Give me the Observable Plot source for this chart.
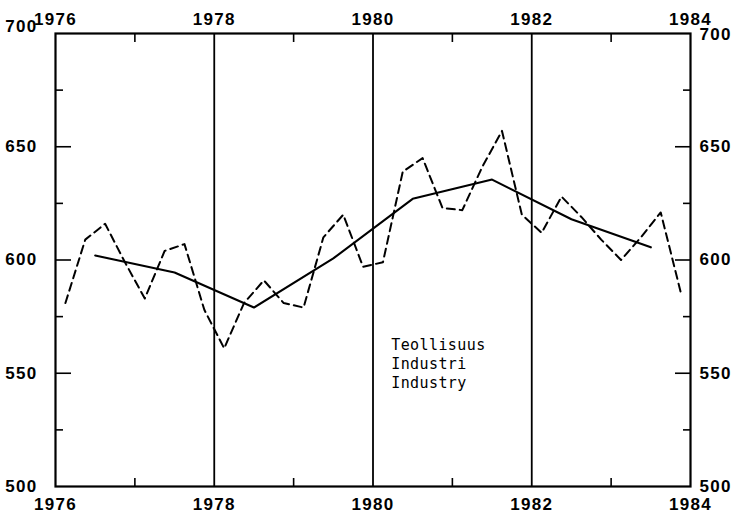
<!DOCTYPE html>
<html><head><meta charset="utf-8">
<script src="https://cdn.jsdelivr.net/npm/d3@7"></script>
<script src="https://cdn.jsdelivr.net/npm/@observablehq/plot@0.6"></script>
<style>
body{margin:0;background:#fff}
#chart svg text{letter-spacing:1.3px}
#chart svg g[aria-label="text"] text{letter-spacing:0.4px}
</style>
</head><body><div id="chart"></div>
<script>
// Quarterly series (dashed), time = mid-quarter
const quarterTimes = [
  1976.125, 1976.375, 1976.625, 1976.875,
  1977.125, 1977.375, 1977.625, 1977.875,
  1978.125, 1978.375, 1978.625, 1978.875,
  1979.125, 1979.375, 1979.625, 1979.875,
  1980.125, 1980.375, 1980.625, 1980.875,
  1981.125, 1981.375, 1981.625, 1981.875,
  1982.125, 1982.375, 1982.625, 1982.875,
  1983.125, 1983.375, 1983.625, 1983.875
];
const quarterValues = [
  581, 609, 616, 599,
  583, 604, 607, 578,
  561, 581, 591, 581,
  579, 610, 620, 597,
  599, 639, 645, 623,
  622, 641, 657, 620,
  612, 628, 619, 609,
  600, 610, 621, 586
];
// Annual series (solid), time = mid-year
const yearTimes = [1976.5, 1977.5, 1978.5, 1979.5, 1980.5, 1981.5, 1982.5, 1983.5];
const yearValues = [602, 594.5, 579, 600.7, 627, 635.5, 618, 605.6];

const xLabelTicks = [1976, 1978, 1980, 1982, 1984];
const xMinorTicks = [1977, 1979, 1981, 1983];
const dividerYears = [1978, 1980, 1982];
const yLabelTicks = [500, 550, 600, 650];
const yTopTick = [700];
const yMajorTicks = [550, 600, 650];
const yMinorTicks = [525, 575, 625, 675];
const labelLines = ["Teollisuus", "Industri", "Industry"];
const labelPos = {x: 1980.23, y: 554.5};

const quarterly = quarterTimes.map((t, i) => ({t, v: quarterValues[i]}));
const annual = yearTimes.map((t, i) => ({t, v: yearValues[i]}));
const annotation = [{x: labelPos.x, y: labelPos.y, text: labelLines.join("\n")}];

const fmt = d => String(d);
const lab = {fontSize: 17, fontWeight: "bold", fontFamily: "Liberation Sans"};

const chart = Plot.plot({
  width: 733,
  height: 514,
  marginLeft: 55,
  marginRight: 43,
  marginTop: 33,
  marginBottom: 28,
  style: {fontFamily: "Liberation Sans", fontSize: "17px", background: "#fff", color: "#000", overflow: "visible"},
  x: {domain: [1976, 1984]},
  y: {domain: [500, 700]},
  marks: [
    Plot.ruleX(dividerYears, {stroke: "#000", strokeWidth: 1.8}),
    // x labels
    Plot.axisX({anchor: "bottom", ticks: xLabelTicks, tickSize: 0, tickPadding: 11, tickFormat: fmt, label: null, ...lab}),
    Plot.axisX({anchor: "top", ticks: xLabelTicks, tickSize: 0, tickPadding: 9, tickFormat: fmt, label: null, ...lab}),
    // x inward minor ticks
    Plot.axisX({anchor: "bottom", ticks: xMinorTicks, tickSize: -8, tickFormat: () => "", label: null, strokeWidth: 1.6}),
    Plot.axisX({anchor: "top", ticks: xMinorTicks, tickSize: -8, tickFormat: () => "", label: null, strokeWidth: 1.6}),
    // y labels
    Plot.axisY({anchor: "left", ticks: yLabelTicks, tickSize: 0, tickPadding: 18, tickFormat: fmt, label: null, ...lab}),
    Plot.axisY({anchor: "left", ticks: yTopTick, tickSize: 0, tickPadding: 18, tickFormat: fmt, label: null, dy: -7, ...lab}),
    Plot.axisY({anchor: "right", ticks: yLabelTicks, tickSize: 0, tickPadding: 9, tickFormat: fmt, label: null, ...lab}),
    Plot.axisY({anchor: "right", ticks: yTopTick, tickSize: 0, tickPadding: 9, tickFormat: fmt, label: null, dy: 1.5, ...lab}),
    // y inward ticks
    Plot.axisY({anchor: "left", ticks: yMajorTicks, tickSize: -16, tickFormat: () => "", label: null, strokeWidth: 1.6}),
    Plot.axisY({anchor: "left", ticks: yMinorTicks, tickSize: -8, tickFormat: () => "", label: null, strokeWidth: 1.6}),
    Plot.axisY({anchor: "right", ticks: yMajorTicks, tickSize: -16, tickFormat: () => "", label: null, strokeWidth: 1.6}),
    Plot.axisY({anchor: "right", ticks: yMinorTicks, tickSize: -8, tickFormat: () => "", label: null, strokeWidth: 1.6}),
    Plot.line(quarterly, {x: "t", y: "v", stroke: "#000", strokeWidth: 2, strokeDasharray: "8,5"}),
    Plot.line(annual, {x: "t", y: "v", stroke: "#000", strokeWidth: 2.1}),
    Plot.text(annotation, {x: "x", y: "y", text: "text", textAnchor: "start", lineAnchor: "middle", lineHeight: 1.25, fontFamily: "DejaVu Sans Mono", fontSize: 15, fill: "#000"}),
    Plot.frame({stroke: "#000", strokeWidth: 2.2})
  ]
});
document.getElementById("chart").appendChild(chart);
</script>
</body></html>
